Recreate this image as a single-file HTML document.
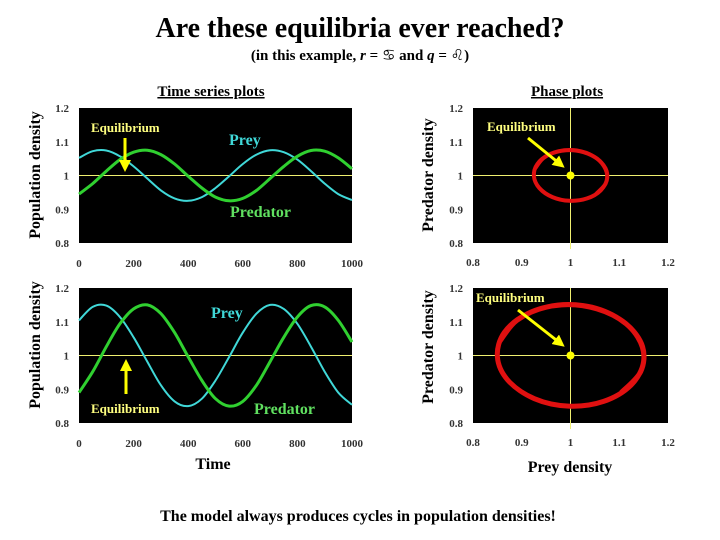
<!DOCTYPE html>
<html><head><meta charset="utf-8">
<style>
html,body{margin:0;padding:0;background:#fff;}
svg{display:block;font-family:"Liberation Serif",serif;font-weight:bold;}
</style></head>
<body>
<svg id="root" width="720" height="540" viewBox="0 0 720 540" xmlns="http://www.w3.org/2000/svg">
<text x="360" y="37" font-size="28" text-anchor="middle">Are these equilibria ever reached?</text>
<text x="360" y="60" font-size="15" text-anchor="middle">(in this example, <tspan font-style="italic">r</tspan> = <tspan font-family="DejaVu Sans,sans-serif">♋</tspan> and <tspan font-style="italic">q</tspan> = <tspan font-family="DejaVu Sans,sans-serif">♌</tspan>)</text>
<text x="211" y="96" font-size="15" text-anchor="middle" text-decoration="underline">Time series plots</text>
<text x="567" y="96" font-size="15" text-anchor="middle" text-decoration="underline">Phase plots</text>
<text transform="translate(40,175) rotate(-90)" font-size="16" text-anchor="middle">Population density</text>
<text transform="translate(40,345) rotate(-90)" font-size="16" text-anchor="middle">Population density</text>
<text transform="translate(433,175) rotate(-90)" font-size="16" text-anchor="middle">Predator density</text>
<text transform="translate(433,347) rotate(-90)" font-size="16" text-anchor="middle">Predator density</text>
<text x="213" y="469" font-size="16" text-anchor="middle">Time</text>
<text x="570" y="472" font-size="16" text-anchor="middle">Prey density</text>
<text x="358" y="521" font-size="16" text-anchor="middle">The model always produces cycles in population densities!</text>
<defs>
<marker id="ah" markerWidth="4" markerHeight="4" refX="2" refY="2" orient="auto" markerUnits="strokeWidth"><path d="M0,0 L4,2 L0,4 z" fill="#ffff00"/></marker>
</defs>
</svg>
<script>
const times = [0,50,100,150,200,250,300,350,400,450,500,550,600,650,700,750,800,850,900,950,1000];
const preyTop = [1.052,1.072,1.074,1.057,1.027,0.991,0.956,0.932,0.925,0.936,0.963,0.998,1.034,1.062,1.075,1.069,1.047,1.013,0.976,0.945,0.927];
const predTop = [0.945,0.976,1.013,1.047,1.069,1.075,1.062,1.034,0.998,0.963,0.936,0.925,0.932,0.956,0.991,1.027,1.057,1.074,1.072,1.052,1.020];
const preyBot = [1.104,1.144,1.148,1.114,1.054,0.982,0.912,0.864,0.850,0.872,0.926,0.996,1.068,1.124,1.150,1.138,1.094,1.026,0.952,0.890,0.854];
const predBot = [0.890,0.952,1.026,1.094,1.138,1.150,1.124,1.068,0.996,0.926,0.872,0.850,0.864,0.912,0.982,1.054,1.114,1.148,1.144,1.104,1.040];
const timeTicks = ["0","200","400","600","800","1000"];
const timeTickVals = [0,200,400,600,800,1000];
const densTicks = ["0.8","0.9","1","1.1","1.2"];
const densTickVals = [0.8,0.9,1.0,1.1,1.2];

const NS="http://www.w3.org/2000/svg";
const root=document.getElementById('root');
function mk(tag,attrs,parent){const e=document.createElementNS(NS,tag);for(const k in attrs)e.setAttribute(k,attrs[k]);(parent||root).appendChild(e);return e;}
function spline(pts){
  let d="M"+pts[0][0].toFixed(1)+","+pts[0][1].toFixed(1);
  const n=pts.length;
  for(let i=0;i<n-1;i++){
    const p0=pts[Math.max(0,i-1)],p1=pts[i],p2=pts[i+1],p3=pts[Math.min(n-1,i+2)];
    const c1=[p1[0]+(p2[0]-p0[0])/6,p1[1]+(p2[1]-p0[1])/6];
    const c2=[p2[0]-(p3[0]-p1[0])/6,p2[1]-(p3[1]-p1[1])/6];
    d+=" C"+c1[0].toFixed(1)+","+c1[1].toFixed(1)+" "+c2[0].toFixed(1)+","+c2[1].toFixed(1)+" "+p2[0].toFixed(1)+","+p2[1].toFixed(1);
  }
  return d;
}
function yAxis(top,bot){return v=>bot-(v-0.8)/0.4*(bot-top);}
const EQC='#f0f070';

function timePlot(name,top,bot,prey,pred,lw){
  const x0=79,x1=352;
  const xs=t=>x0+t/1000*(x1-x0), ys=yAxis(top,bot);
  const g=mk('g',{});
  
  
  const bg=mk('rect',{x:x0,y:top,width:x1-x0,height:bot-top,fill:'#000'},g);
  
  
  const eq=mk('line',{x1:x0,x2:x1,y1:ys(1),y2:ys(1),stroke:EQC,'stroke-width':1},g);
  
  
  const pl=mk('path',{d:spline(times.map((t,i)=>[xs(t),ys(prey[i])])),fill:'none',stroke:'#40d8d8','stroke-width':2},g);
  
  
  const dl=mk('path',{d:spline(times.map((t,i)=>[xs(t),ys(pred[i])])),fill:'none',stroke:'#30d030','stroke-width':lw},g);
  
  
  densTickVals.forEach((v,i)=>{const t=mk('text',{x:x0-10,y:ys(v)+4,'font-size':11,'text-anchor':'end',fill:'#333'},g);t.textContent=densTicks[i];
    
    });
  timeTickVals.forEach((v,i)=>{const t=mk('text',{x:xs(v),y:bot+24,'font-size':11,'text-anchor':'middle',fill:'#333'},g);t.textContent=timeTicks[i];
    
    });
  return {g,xs,ys};
}
function phasePlot(name,top,bot,prey,pred,lw){
  const x0=473,x1=668;
  const xs=v=>x0+(v-0.8)/0.4*(x1-x0), ys=yAxis(top,bot);
  const g=mk('g',{});
  
  
  const bg=mk('rect',{x:x0,y:top,width:x1-x0,height:bot-top,fill:'#000'},g);
  
  
  const h=mk('line',{x1:x0,x2:x1,y1:ys(1),y2:ys(1),stroke:EQC,'stroke-width':1},g);
  
  
  const v=mk('line',{x1:xs(1),x2:xs(1),y1:top,y2:bot+6,stroke:EQC,'stroke-width':1},g);
  
  
  const orb=mk('path',{d:spline(times.map((t,i)=>[xs(prey[i]),ys(pred[i])])),fill:'none',stroke:'#e01010','stroke-width':lw},g);
  
  
  const dot=mk('circle',{cx:xs(1),cy:ys(1),r:4,fill:'#ffff00'},g);
  
  
  densTickVals.forEach((vv,i)=>{const t=mk('text',{x:x0-10,y:ys(vv)+4,'font-size':11,'text-anchor':'end',fill:'#333'},g);t.textContent=densTicks[i];
    
    });
  densTickVals.forEach((vv,i)=>{const t=mk('text',{x:xs(vv),y:bot+23,'font-size':11,'text-anchor':'middle',fill:'#333'},g);t.textContent=densTicks[i];
    
    });
  return {g,xs,ys};
}
function label(g,x,y,txt,size,fill,name){const t=mk('text',{x:x,y:y,'font-size':size,fill:fill},g);t.textContent=txt;
  
  return t;}
function arrow(g,xa,ya,xb,yb,name){const a=mk('line',{x1:xa,y1:ya,x2:xb,y2:yb,stroke:'#ffff00','stroke-width':3,'marker-end':'url(#ah)'},g);
  
  }

const tl=timePlot('time-series-chart-top',108,243,preyTop,predTop,3);
label(tl.g,91,132,'Equilibrium',13,'#ffff80','equilibrium-label');
arrow(tl.g,125,138,125,166,'equilibrium-arrow');
label(tl.g,229,145,'Prey',16,'#40d8d8','prey-label');
label(tl.g,230,217,'Predator',16,'#60e060','predator-label');

const bl=timePlot('time-series-chart-bottom',288,423,preyBot,predBot,3);
label(bl.g,91,413,'Equilibrium',13,'#ffff80','equilibrium-label');
arrow(bl.g,126,394,126,365,'equilibrium-arrow');
label(bl.g,211,318,'Prey',16,'#40d8d8','prey-label');
label(bl.g,254,414,'Predator',16,'#60e060','predator-label');

const tr=phasePlot('phase-plot-top',108,243,preyTop,predTop,4);
label(tr.g,487,131,'Equilibrium',13,'#ffff80','equilibrium-label');
arrow(tr.g,528,138,560,164,'equilibrium-arrow');

const br=phasePlot('phase-plot-bottom',288,423,preyBot,predBot,5);
label(br.g,476,302,'Equilibrium',13,'#ffff80','equilibrium-label');
arrow(br.g,518,310,560,343,'equilibrium-arrow');
</script>
</body></html>
